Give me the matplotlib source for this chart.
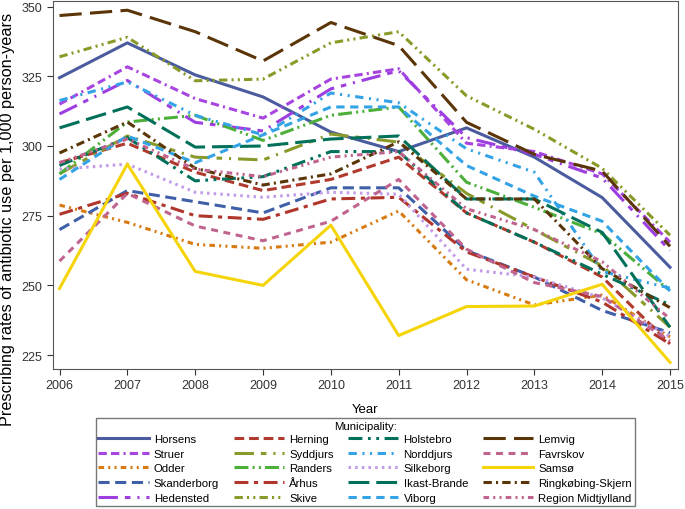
import matplotlib

matplotlib.use("Agg")

import matplotlib.pyplot as plt

plt.rcParams["font.family"] = ["Liberation Sans", "DejaVu Sans"]
plt.rcParams["lines.scale_dashes"] = False

years = list(range(2006, 2016))

municipalities = [
    "Horsens", "Struer", "Odder", "Skanderborg", "Hedensted",
    "Herning", "Syddjurs", "Randers", "Århus", "Skive",
    "Holstebro", "Norddjurs", "Silkeborg", "Ikast-Brande", "Viborg",
    "Lemvig", "Favrskov", "Samsø", "Ringkøbing-Skjern", "Region Midtjylland",
]

horsens = [324.5, 337, 325.5, 317.6, 305, 298, 306.5, 296, 281.5, 256.5]
struer = [315, 328.4, 317, 310, 324, 327.7, 301, 298, 290, 265.5]
odder = [278.8, 272.6, 264.7, 263.3, 265.5, 276.7, 252, 243, 246.5, 231.5]
skanderborg = [270, 284, 280, 276, 285, 285, 262.5, 253, 241, 233]
hedensted = [311.5, 323.5, 308.5, 305.4, 320.5, 327, 303, 297, 288.5, 262.5]
herning = [294, 301, 290.6, 284, 288, 296, 276, 265.5, 253, 229]
syddjurs = [290, 303.6, 296, 295, 304.3, 301.4, 283, 270, 257, 235]
randers = [290, 308.6, 311, 302, 311, 314, 287, 278, 268.5, 248]
aarhus = [275.5, 283, 275, 273.7, 281, 281.6, 262, 253, 244, 229]
skive = [332, 339, 323.4, 324, 337, 341, 318, 306, 292, 268]
holstebro = [293, 303, 287.5, 289, 298, 298, 276, 265.5, 254, 243]
norddjurs = [316.3, 323, 311, 304, 319, 315.5, 299, 290.6, 255, 249]
silkeborg = [291.7, 293.5, 283.4, 281.6, 283.4, 282.7, 255.8, 253, 245.5, 231.6]
ikast_brande = [306.5, 314, 299.6, 300, 302.5, 303.6, 281, 281, 269, 235]
viborg = [288, 303.6, 294, 304, 314, 314, 293, 282, 273, 248]
lemvig = [346.8, 348.7, 341, 330.5, 344.3, 336, 308.5, 297, 291, 264]
favrskov = [258.7, 283, 271.3, 266, 273, 288, 263, 251, 246, 230]
samso = [248.9, 293.5, 255, 250, 271.6, 232, 242.4, 242.6, 250.4, 222.4]
ringkobing = [297.5, 308.6, 292, 286, 290, 301.5, 281, 281, 256, 242]
region = [294, 302.5, 291.7, 289, 296, 298, 277.5, 270, 258.5, 238]

series = [
    horsens, struer, odder, skanderborg, hedensted,
    herning, syddjurs, randers, aarhus, skive,
    holstebro, norddjurs, silkeborg, ikast_brande, viborg,
    lemvig, favrskov, samso, ringkobing, region,
]

colors = [
    "#4a5c9e", "#a845e0", "#d87a12", "#3f5fa8", "#9d3ee0",
    "#b03a2e", "#8a9a2a", "#4caf3a", "#b0352a", "#8a9a28",
    "#00705a", "#33a3e6", "#c39ae8", "#00705a", "#33a3e6",
    "#5a3508", "#c0648f", "#f5d40a", "#5a3508", "#c0648f",
]

dashes = [
    None, (6, 3, 6, 3, 1.5, 3), (4, 3, 1.5, 3, 1.5, 3), (8, 4), (14, 5, 4, 5, 1.5, 5),
    (7, 3.5), (14, 5, 4, 5, 1.5, 5), (10, 3, 1.5, 3, 1.5, 3), (10, 4, 3, 4), (6, 3, 1.5, 3, 1.5, 3),
    (10, 4, 2, 4, 2, 4), (6, 4, 1.5, 4, 1.5, 4), (1.8, 3), (15, 5), (6, 4),
    (16, 6), (5, 4), None, (6, 3, 1.5, 3), (4, 3, 1.5, 3, 1.5, 3),
]

fig = plt.figure(figsize=(6.85, 5.1), dpi=100)
ax = fig.add_axes([0.077, 0.2745, 0.913, 0.7215])

for name, vals, color, dash in zip(municipalities, series, colors, dashes):
    line, = ax.plot(years, vals, color=color, linewidth=2.2, label=name)
    if dash is not None:
        line.set_dashes(dash)

ax.set_xlim(2005.9, 2015.12)
ax.set_ylim(220, 352)
ax.set_xticks(years)
ax.set_yticks([225, 250, 275, 300, 325, 350])
ax.tick_params(labelsize=9, length=4, colors="#333333")
for spine in ax.spines.values():
    spine.set_color("#555555")

ax.set_xlabel("Year", fontsize=9.5, labelpad=8)
ax.set_ylabel("Prescribing rates of antibiotic use per 1,000 person-years", fontsize=11.7)
ax.yaxis.set_label_coords(-0.06, 0.41)

leg = fig.legend(
    loc="upper center",
    bbox_to_anchor=(0.533, 0.178),
    ncol=4,
    fontsize=8.2,
    title="Municipality:",
    title_fontsize=8.2,
    handlelength=4.4,
    handletextpad=0.45,
    columnspacing=1.3,
    labelspacing=0.42,
    borderpad=0.25,
    borderaxespad=0,
    fancybox=False,
    frameon=True,
)
leg.get_frame().set_edgecolor("#555555")
leg.get_frame().set_linewidth(1.0)
leg._legend_box.sep = 2

fig.savefig("out.png", dpi=100)
